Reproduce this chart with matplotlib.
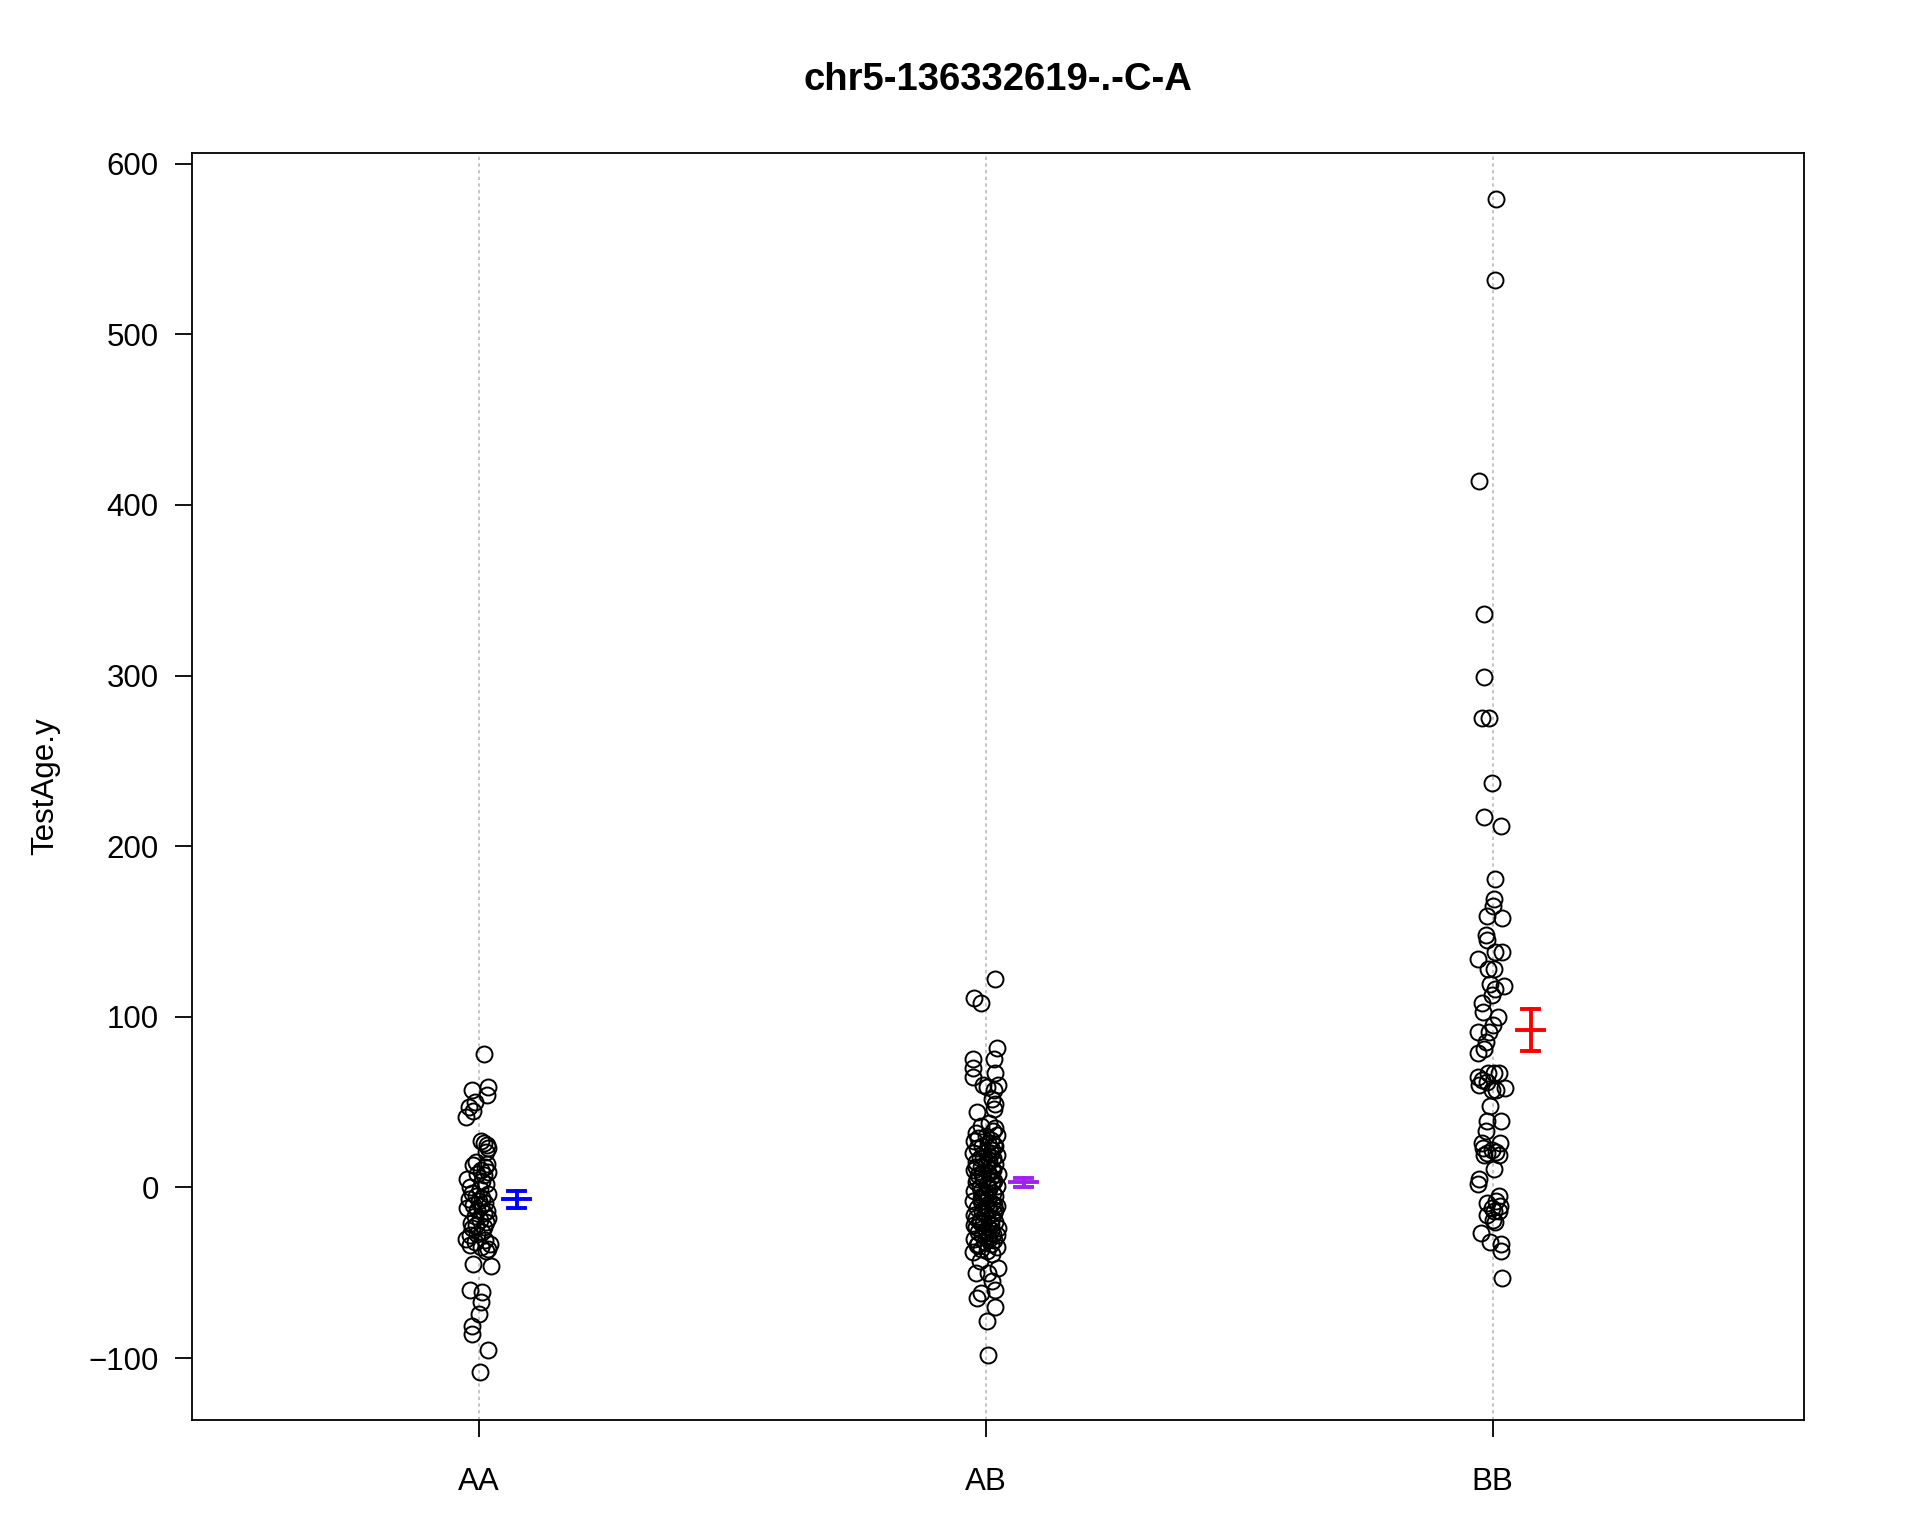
import matplotlib.pyplot as plt
import numpy as np

plt.rcParams['font.family'] = ['Liberation Sans', 'DejaVu Sans']

# genotype groups
groups = ['AA', 'AB', 'BB']
colors = ['#0000FF', '#A020F0', '#FF0000']

# TestAge.y values, with their horizontal jitter
aa_y = [78, 57, 59, 54, 50, 47, 41, 45, 27, 26, 25, 23, 21, 15, 13, 14, 12, 10, 9, 8,
        7, 5, 4, 2, 0, -1, -3, -4, -5, -6, -7, -8, -9, -10, -11, -12, -13, -14, -15, -17,
        -18, -19, -20, -21, -22, -23, -24, -26, -27, -28, -30, -31, -32, -33, -34, -35, -36, -37,
        -45, -46, -60, -61, -67, -74, -81, -86, -95, -108]
aa_jit = [0.010, -0.012, 0.019, 0.017, -0.007, -0.019, -0.024, -0.010, 0.005, 0.010, 0.017, 0.019,
          0.014, -0.005, -0.010, 0.017, 0.012, 0.005, 0.019, -0.002, 0.010, -0.022, 0.007, 0.014,
          -0.017, 0.002, -0.012, 0.019, -0.005, 0.007, -0.019, 0.000, 0.012, -0.010, 0.005, -0.022,
          -0.002, 0.017, 0.010, -0.007, 0.019, 0.002, 0.014, -0.014, -0.005, 0.010, -0.012, 0.007,
          -0.002, -0.017, -0.024, 0.012, -0.007, 0.022, -0.017, 0.005, 0.019, 0.014,
          -0.010, 0.024, -0.017, 0.007, 0.005, 0.000, -0.012, -0.012, 0.019, 0.002]

ab_y = [122, 111, 108, 82, 75, 75, 70, 67, 65, 60, 60, 59, 57, 52, 49, 46, 44,
        38, 36, 35, 33, 32, 31, 30, 29, 28, 27, 26, 25, 24, 23, 22, 21, 20, 19, 18, 17,
        17, 16, 15, 14, 13, 12, 11, 10, 9, 8, 7, 6, 5, 4, 3, 2, 1, 0, -1, -2,
        -3, -4, -5, -6, -7, -8, -9, -10, -11, -12, -13, -14, -15, -16, -17, -18, -19, -20,
        -21, -22, -23, -24, -25, -26, -27, -28, -29, -30, -31, -32, -33, -34, -35, -36, -37,
        -38, -39,
        15, 10, 5, 0, -5, -10, -15, -20, -25, -30, 20, 12, 3, -3, -8, -13, -18, -23, -28,
        -33, 24, 8, -2, -12, -22,
        -43, -47, -50, -50, -55, -60, -62, -65, -70, -78, -98]
ab_jit = [0.019, -0.022, -0.010, 0.022, -0.024, 0.017, -0.024, 0.019, -0.024, -0.005, 0.024,
          0.002, 0.017, 0.012, 0.019, 0.017, -0.017,
          0.007, -0.010, 0.019, 0.014, -0.019, 0.022, 0.000, -0.014, 0.010, -0.022, 0.005,
          0.017, -0.007, -0.017, 0.012, 0.002, -0.024, 0.022, -0.005, 0.014, -0.012, 0.007,
          -0.019, 0.019, 0.000, -0.010, 0.012, -0.022, 0.005, 0.024, -0.014, 0.010, -0.005,
          0.017, -0.019, 0.002, 0.022, -0.012, 0.007, -0.022, 0.014, -0.002, 0.019, -0.010,
          0.005, -0.024, 0.012, 0.000, 0.022, -0.017, 0.007, -0.007, 0.017, -0.022, 0.002,
          0.012, -0.012, 0.019, -0.005, 0.010, -0.019, 0.024, 0.000, -0.014, 0.014, -0.007,
          0.005, -0.022, 0.017, -0.002, 0.010, -0.017, 0.022, -0.010, 0.002, -0.024, 0.012,
          0.002, 0.014, -0.017, 0.005, -0.007, 0.017, -0.002, -0.012, 0.010, 0.007, 0.010,
          -0.019, 0.012, 0.002, -0.010, 0.019, -0.019, 0.005, 0.022, -0.014, 0.019, -0.007,
          -0.010, 0.005, -0.022,
          -0.012, 0.024, 0.005, -0.019, 0.012, 0.019, -0.010, -0.017, 0.019, 0.002, 0.005]

bb_y = [579, 532, 414, 336, 299, 275, 275, 237, 217, 212, 181, 169, 165, 159, 158, 148, 145,
        134, 138, 138, 128, 128, 119, 116, 118, 113, 108, 103, 100, 95, 91, 91, 85, 81, 79,
        67, 67, 67, 65, 63, 60, 62, 57, 58, 57, 48, 39, 39, 33, 26, 26, 23, 22, 21, 19, 19,
        20, 11, 5, 2, -5, -8, -9, -11, -12, -14, -14, -16, -19, -20, -26.5, -32, -33, -37, -53]
bb_jit = [0.007, 0.005, -0.027, -0.017, -0.017, -0.022, -0.007, -0.002, -0.017, 0.017, 0.005,
          0.002, 0.000, -0.012, 0.019, -0.014, -0.012, -0.029, 0.019, 0.005, -0.010, 0.002,
          -0.005, 0.005, 0.022, -0.002, -0.022, -0.019, 0.010, 0.000, -0.007, -0.029, -0.014,
          -0.017, -0.029, -0.010, 0.002, 0.012, -0.029, -0.022, -0.027, -0.012, 0.007, 0.024,
          -0.002, -0.005, -0.012, 0.017, -0.014, -0.022, 0.014, -0.019, -0.002, 0.007, -0.017,
          0.012, -0.012, 0.002, -0.027, -0.029, 0.012, 0.007, -0.012, 0.014, -0.002, 0.002,
          0.012, -0.012, 0.000, 0.005, -0.024, -0.005, 0.017, 0.017, 0.019]

# mean +/- SE as drawn
means = [-7, 3, 92.5]
ses = [5, 2.5, 12.3]

fig = plt.figure(figsize=(19.2, 15.36), dpi=100)
ax = fig.add_axes([0.100, 0.0755, 0.8396, 0.8249])

for i in range(3):
    ax.axvline(i + 1, color='#BBBBBB', linestyle=(0, (2, 2)), linewidth=1.2, zorder=0)

for i, (ys, js) in enumerate([(aa_y, aa_jit), (ab_y, ab_jit), (bb_y, bb_jit)]):
    xs = i + 1 + np.array(js)
    ax.plot(xs, ys, 'o', markersize=11.5, markerfacecolor='none',
            markeredgecolor='black', markeredgewidth=1.4, zorder=2)

for i in range(3):
    xm = i + 1 + 0.075
    ax.plot([xm - 0.027, xm + 0.027], [means[i], means[i]], color=colors[i], linewidth=2.8)
    ax.plot([xm, xm], [means[i] - ses[i], means[i] + ses[i]], color=colors[i], linewidth=2.8)
    for s in (-1, 1):
        yc = means[i] + s * ses[i]
        ax.plot([xm - 0.017, xm + 0.017], [yc, yc], color=colors[i], linewidth=2.8)

ax.set_xlim(0.435, 3.614)
ax.set_ylim(-136.3, 606.2)
ax.set_xticks([1, 2, 3])
ax.set_xticklabels(groups)
ax.set_yticks(np.arange(-100, 601, 100))
ax.tick_params(axis='both', direction='out', length=12, width=1.3, labelsize=22.5)
ax.tick_params(axis='x', pad=22)
ax.tick_params(axis='y', pad=12)
for sp in ax.spines.values():
    sp.set_linewidth(1.3)

ax.set_ylabel('TestAge.y', fontsize=22.5)
ax.yaxis.set_label_coords(-0.082, 0.5)

fig.text(0.5198, 0.948, 'chr5-136332619-.-C-A', ha='center', va='center',
         fontsize=27.5, fontweight='bold')

plt.savefig('out.png', dpi=100)
